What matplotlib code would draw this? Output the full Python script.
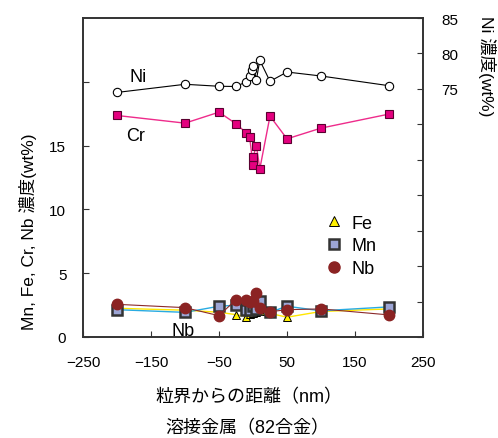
import numpy as np
import matplotlib
matplotlib.use('Agg')
import matplotlib.pyplot as plt
from matplotlib.lines import Line2D

plt.rcParams['font.family'] = ['Liberation Sans', 'Noto Sans CJK JP', 'DejaVu Sans']

# distance from grain boundary (nm)
ni_x = [-200, -100, -50, -25, -10, -5, -1, 0.5, 5, 10, 25, 50, 100, 200]
ni_val = [74.5, 75.65, 75.37, 75.34, 76.0, 76.78, 77.71, 78.19, 76.3, 79.03, 76.07, 77.38, 76.82, 75.45]

cr_x = [-200, -100, -50, -25, -10, -5, 0, 0, 5, 10, 25, 50, 100, 200]
cr_val = [17.36, 16.76, 17.62, 16.71, 16.0, 15.66, 13.51, 14.09, 14.98, 13.18, 17.31, 15.53, 16.37, 17.47]

minor_x = [-200, -100, -50, -25, -10, -5, 0, 5, 10, 25, 50, 100, 200]
fe_val = [2.25, 2.1, 1.94, 1.75, 1.6, 1.8, 1.9, 1.94, 2.0, 1.85, 1.55, 2.0, 2.2]
mn_val = [2.14, 1.93, 2.41, 2.49, 2.15, 2.1, 2.45, 2.2, 2.8, 1.94, 2.41, 2.05, 2.36]
nb_val = [2.56, 2.3, 1.67, 2.93, 2.93, 2.72, 2.8, 3.43, 2.27, 1.98, 2.14, 2.2, 1.73]

fig = plt.figure(figsize=(4.98, 4.39), dpi=100)
ax = fig.add_axes([0.1667, 0.2301, 0.6827, 0.7266])
ax2 = ax.twinx()

# minor elements (left axis)
ax.plot(minor_x, fe_val, color='#FFE600', lw=1, marker='^', ms=6,
        mfc='#FFF000', mec='black', mew=0.7, zorder=3)
ax.plot(minor_x, mn_val, color='#29ABE2', lw=1, marker='s', ms=7.5,
        mfc='#9CA5D5', mec='#333333', mew=1.8, zorder=4)
ax.plot(minor_x, nb_val, color='#8B2A2A', lw=0.8, marker='o', ms=7.5,
        mfc='#8B2323', mec='#8B2323', zorder=5)
ax.plot(cr_x, cr_val, color='#EE2B8B', lw=1, marker='s', ms=6,
        mfc='#E4007F', mec='#5a0030', mew=0.8, zorder=3)

# Ni (right axis)
ax2.plot(ni_x, ni_val, color='black', lw=0.8, marker='o', ms=6,
         mfc='white', mec='black', mew=0.8)

ax.set_xlim(-250, 250)
ax.set_ylim(0, 25)
ax2.set_ylim(40, 85)

ax.set_xticks([-250, -150, -50, 50, 150, 250])
ax.set_xticklabels(['\u2212250', '\u2212150', '\u221250', '50', '150', '250'])
ax.set_yticks([0, 5, 10, 15, 20])
ax.set_yticklabels(['0', '5', '10', '15', ''])
ax2.set_yticks(np.arange(40, 86, 5))
ax2.set_yticklabels(['' if v < 75 else str(v) for v in range(40, 86, 5)])

ax.tick_params(axis='both', direction='in', length=4, width=0.8, labelsize=11,
               colors='#333333', labelcolor='black')
ax.tick_params(axis='y', pad=12)
ax.tick_params(axis='x', pad=13)
ax2.tick_params(axis='y', direction='in', length=4, width=0.8, labelsize=11,
                pad=13, colors='#333333', labelcolor='black')

for a in (ax, ax2):
    for s in a.spines.values():
        s.set_linewidth(1.2)
        s.set_color('#333333')

ax.text(-169, 20.4, 'Ni', fontsize=13, ha='center', va='center')
ax.text(-173, 15.8, 'Cr', fontsize=13, ha='center', va='center')
ax.text(-103, 0.5, 'Nb', fontsize=13, ha='center', va='center')

handles = [
    Line2D([], [], ls='none', marker='^', ms=7, mfc='#FFF000', mec='black', mew=0.7),
    Line2D([], [], ls='none', marker='s', ms=7.5, mfc='#9CA5D5', mec='#333333', mew=1.8),
    Line2D([], [], ls='none', marker='o', ms=8, mfc='#8B2323', mec='#8B2323'),
]
ax2.legend(handles, ['Fe', 'Mn', 'Nb'], loc='upper left',
           bbox_to_anchor=(312 / 498, 1 - 203 / 439), bbox_transform=fig.transFigure,
           frameon=False, fontsize=13, handlelength=1.0, handletextpad=0.5,
           labelspacing=0.32, borderpad=0.2)

fig.text(28 / 498, 1 - 232 / 439, 'Mn, Fe, Cr, Nb 濃度(wt%)', rotation=90,
         fontsize=12.5, ha='center', va='center')
fig.text(487 / 498, 1 - 16 / 439, 'Ni 濃度(wt%)', rotation=270,
         fontsize=12.5, ha='center', va='top')
fig.text(249 / 498, 1 - 398 / 439, '粒界からの距離（nm）', fontsize=13,
         ha='center', va='center')
fig.text(247 / 498, 1 - 429 / 439, '溶接金属（82合金）', fontsize=13,
         ha='center', va='center')

fig.savefig('out.png', dpi=100)
